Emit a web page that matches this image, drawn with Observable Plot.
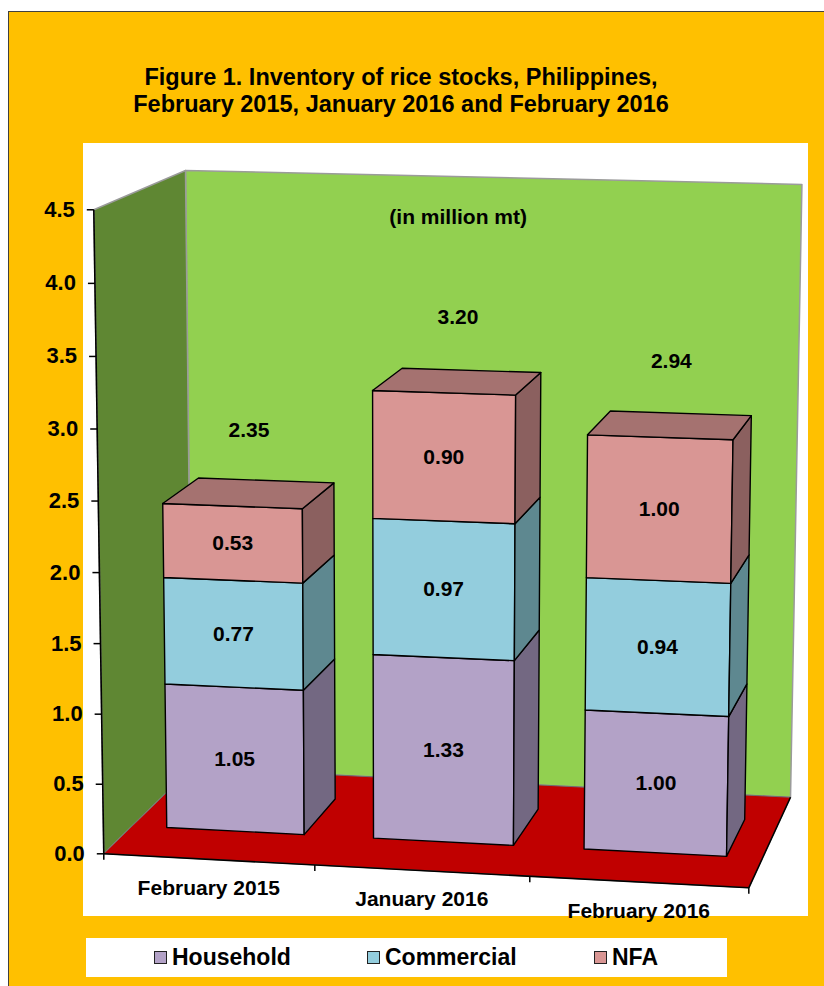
<!DOCTYPE html>
<html><head><meta charset="utf-8">
<script src="https://cdn.jsdelivr.net/npm/d3@7"></script>
<script src="https://cdn.jsdelivr.net/npm/@observablehq/plot@0.6"></script>
<style>
html,body{margin:0;padding:0;background:#fff;}
body{width:824px;height:986px;position:relative;overflow:hidden;font-family:"Liberation Sans",Arial,sans-serif;}
#panel{position:absolute;left:8px;top:11px;width:816px;height:975px;background:#FFC000;border-left:1px solid #404040;border-top:1px solid #404040;box-sizing:border-box;}
#title{position:absolute;left:0;top:64px;width:802px;text-align:center;font-weight:bold;font-size:23.5px;line-height:27px;color:#000;}
#plotbg{position:absolute;left:83px;top:143px;width:725px;height:773px;background:#fff;}
#chart{position:absolute;left:0;top:0;}
#legend{position:absolute;left:86px;top:938px;width:641px;height:39px;background:#fff;}
.item{position:absolute;top:0;height:39px;display:flex;align-items:center;font-weight:bold;font-size:23px;color:#000;}
.sw{width:11px;height:11px;border:1px solid #222;margin-right:5px;}
</style></head>
<body>
<div id="panel"></div>
<div id="title">Figure 1. Inventory of rice stocks, Philippines,<br>February 2015, January 2016 and February 2016</div>
<div id="plotbg"></div>
<div id="chart"></div>
<div id="legend"></div>
<script>
// ---- data ----
const categories = ["February 2015", "January 2016", "February 2016"];
const seriesNames = ["Household", "Commercial", "NFA"];
const household = [1.05, 1.33, 1.00];
const commercial = [0.77, 0.97, 0.94];
const nfa = [0.53, 0.90, 1.00];
const totals = [2.35, 3.20, 2.94];
const yTicks = [0, 0.5, 1, 1.5, 2, 2.5, 3, 3.5, 4, 4.5];
const unitNote = "(in million mt)";

// ---- styles ----
const seriesValues = [household, commercial, nfa];
const frontColors = ["#B3A2C7", "#93CDDD", "#D99694"];
const sideColors = ["#736882", "#5E8890", "#8B605F"];
const topColors = ["#8F82A0", "#76A4B1", "#A57270"];
const FONT = "Liberation Sans, Arial, sans-serif";

// ---- scales (world units: unit cube) ----
const xs = Plot.scale({x: {type: "band", domain: categories, range: [0, 1], paddingInner: 1/3, paddingOuter: 1/6, align: 0.5}});
const vs = Plot.scale({y: {type: "linear", domain: [0, 4.5], range: [0, 1]}});
const bw = xs.bandwidth;
const zFront = 0.31, zBack = 0.72, zMid = (zFront + zBack) / 2;
const totalLift = 0.45; // label sits above the stack (value units)

// ---- 3D view (perspective camera, page pixels) ----
const view = {o: [103.3, 853.3], ex: [624.42, 9.6, -0.02751], ev: [-12.9, -650.52, -0.0311], ez: [103.61, -24.51, 0.0798]};
function proj(X, V, Z) {
  const w = 1 + X * view.ex[2] + V * view.ev[2] + Z * view.ez[2];
  return [(view.o[0] + X * view.ex[0] + V * view.ev[0] + Z * view.ez[0]) / w,
          (view.o[1] + X * view.ex[1] + V * view.ev[1] + Z * view.ez[1]) / w];
}
function face(rows, id, pts, fill) {
  for (const [X, V, Z] of pts) { const [px, py] = proj(X, V, Z); rows.push({id, px, py, fill}); }
}
function seg(a, b) { const p = proj(...a), q = proj(...b); return {x1: p[0], y1: p[1], x2: q[0], y2: q[1]}; }

// walls & floor
const walls = [];
face(walls, "back", [[0,0,1],[1,0,1],[1,1,1],[0,1,1]], "#92D050");
face(walls, "left", [[0,0,0],[0,0,1],[0,1,1],[0,1,0]], "#5F8733");
const floor = [];
face(floor, "floor", [[0,0,0],[1,0,0],[1,0,1],[0,0,1]], "#C00000");

// bars
const bars = [], labels = [];
categories.forEach((c, i) => {
  const x0 = xs.apply(c), x1 = x0 + bw;
  let base = 0;
  seriesValues.forEach((vals, s) => {
    const b = vs.apply(base), t = vs.apply(base + vals[i]);
    face(bars, `f${i}${s}`, [[x0,b,zFront],[x1,b,zFront],[x1,t,zFront],[x0,t,zFront]], frontColors[s]);
    face(bars, `s${i}${s}`, [[x1,b,zFront],[x1,b,zBack],[x1,t,zBack],[x1,t,zFront]], sideColors[s]);
    if (s === seriesValues.length - 1)
      face(bars, `t${i}${s}`, [[x0,t,zFront],[x1,t,zFront],[x1,t,zBack],[x0,t,zBack]], topColors[s]);
    const [px, py] = proj((x0 + x1) / 2, (b + t) / 2, zFront);
    labels.push({px, py, text: d3.format(".2f")(vals[i])});
    base += vals[i];
  });
  const [tx, ty] = proj((x0 + x1) / 2, vs.apply(totals[i] + totalLift), zMid);
  labels.push({px: tx, py: ty, text: d3.format(".2f")(totals[i])});
});
{
  const c = categories[1];
  const [nx, ny] = proj(xs.apply(c) + bw / 2, vs.apply(4.35), zMid);
  labels.push({px: nx, py: ny, text: unitNote});
}

// axes
const yTickRows = yTicks.map(v => { const [px, py] = proj(0, vs.apply(v), 0); return {px, py, v}; });
const edges = d3.range(categories.length + 1).map(k => k / categories.length);
const xTickRows = edges.map(e => { const [px, py] = proj(e, 0, 0); return {px, py}; });
const catRows = categories.map(c => { const [px, py] = proj(xs.apply(c) + bw / 2, 0, 0); return {px, py, c}; });
const axisLines = [seg([0,0,0],[0,1,0]), seg([0,0,0],[1,0,0]), seg([1,0,0],[1,0,1])];

const W = 824, H = 930;
const chart = Plot.plot({
  width: W, height: H, margin: 0,
  x: {domain: [0, W], range: [0, W], axis: null},
  y: {domain: [0, H], range: [0, H], axis: null},
  color: {type: "identity"},
  style: {background: "transparent", fontFamily: FONT, overflow: "visible"},
  marks: [
    Plot.line(walls, {x: "px", y: "py", z: "id", fill: "fill", stroke: "#9B9B9B", strokeWidth: 1.5, curve: "linear-closed"}),
    Plot.line(floor, {x: "px", y: "py", z: "id", fill: "fill", stroke: "#6E6E6E", strokeWidth: 1, curve: "linear-closed"}),
    Plot.link(axisLines, {x1: "x1", y1: "y1", x2: "x2", y2: "y2", stroke: "#000", strokeWidth: 1.6}),
    Plot.link(yTickRows, {x1: d => d.px - 7, x2: "px", y1: "py", y2: "py", stroke: "#000", strokeWidth: 1.5}),
    Plot.link(xTickRows, {x1: "px", x2: "px", y1: "py", y2: d => d.py + 6, stroke: "#000", strokeWidth: 1.5}),
    Plot.text(yTickRows, {x: "px", y: "py", text: d => d3.format(".1f")(d.v), dx: -19, textAnchor: "end", fontSize: 22, fontWeight: "bold", fill: "#000"}),
    Plot.text(catRows, {x: "px", y: "py", text: "c", dy: 29, fontSize: 21, fontWeight: "bold", fill: "#000"}),
    Plot.line(bars, {x: "px", y: "py", z: "id", fill: "fill", stroke: "#000", strokeWidth: 1.4, strokeLinejoin: "round", curve: "linear-closed"}),
    Plot.text(labels, {x: "px", y: "py", text: "text", fontSize: 21, fontWeight: "bold", fill: "#000"})
  ]
});
document.getElementById("chart").appendChild(chart);

// legend
const legend = document.getElementById("legend");
const legendLeft = [68, 281, 508];
seriesNames.forEach((n, s) => {
  const it = document.createElement("div");
  it.className = "item";
  it.style.left = legendLeft[s] + "px";
  const sw = document.createElement("span");
  sw.className = "sw";
  sw.style.background = frontColors[s];
  it.appendChild(sw);
  it.appendChild(document.createTextNode(n));
  legend.appendChild(it);
});
</script>
</body></html>
